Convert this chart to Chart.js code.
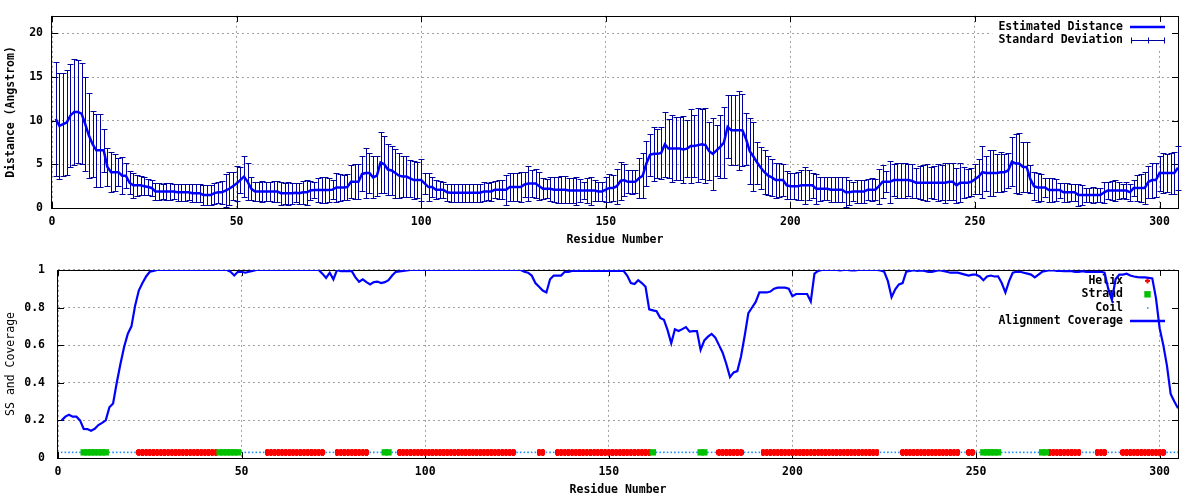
<!DOCTYPE html>
<html>
<head>
<meta charset="utf-8">
<script src="https://cdn.jsdelivr.net/npm/chart.js@4.4.0/dist/chart.umd.min.js"></script>
<style>
  html, body { margin: 0; padding: 0; background: #fff; }
  .pane { width: 1200px; height: 250px; }
  canvas { display: block; }
</style>
</head>
<body>
<div class="pane"><canvas id="distPlot" width="1200" height="250"></canvas></div>
<div class="pane"><canvas id="ssPlot" width="1200" height="250"></canvas></div>
<script>
// Estimated distance per residue (Angstrom), residues 1..305
var distMean = [
  10.2, 9.4, 9.6, 9.8, 10.6, 11.0, 11.0, 10.8, 9.6, 8.3,
  7.3, 6.6, 6.6, 6.6, 4.7, 4.1, 4.1, 4.1, 3.7, 3.7,
  2.9, 2.6, 2.6, 2.6, 2.5, 2.4, 2.3, 1.9, 1.9, 1.9,
  1.9, 1.9, 1.9, 1.8, 1.8, 1.8, 1.8, 1.7, 1.7, 1.7,
  1.5, 1.5, 1.5, 1.7, 1.8, 1.8, 2.0, 2.2, 2.5, 2.8,
  3.2, 3.6, 3.0, 2.2, 1.9, 1.9, 1.9, 1.9, 1.9, 1.9,
  1.9, 1.7, 1.7, 1.7, 1.7, 1.75, 1.7, 1.8, 1.8, 2.0,
  2.05, 2.05, 2.05, 2.05, 2.05, 2.1, 2.35, 2.35, 2.35, 2.4,
  3.0, 3.0, 3.0, 3.9, 4.0, 4.0, 3.5, 3.7, 5.2, 5.0,
  4.4, 4.3, 4.0, 3.7, 3.6, 3.6, 3.4, 3.2, 3.2, 3.2,
  2.8, 2.4, 2.4, 2.1, 2.1, 2.1, 1.8, 1.75, 1.75, 1.75,
  1.75, 1.75, 1.75, 1.75, 1.75, 1.75, 1.9, 1.9, 1.9, 2.1,
  2.1, 2.1, 2.1, 2.4, 2.4, 2.4, 2.4, 2.7, 2.8, 2.8,
  2.8, 2.5, 2.2, 2.2, 2.2, 2.1, 2.1, 2.1, 2.1, 2.0,
  2.0, 2.0, 2.0, 2.0, 2.0, 2.0, 2.0, 1.9, 1.9, 2.1,
  2.3, 2.3, 2.5, 3.1, 3.2, 3.0, 3.0, 3.0, 3.4, 3.7,
  5.1, 6.1, 6.2, 6.2, 6.3, 7.3, 6.8, 6.8, 6.8, 6.8,
  6.7, 6.8, 7.1, 7.1, 7.2, 7.3, 7.2, 6.5, 6.2, 6.6,
  7.0, 7.5, 9.3, 8.9, 8.9, 8.9, 8.9, 7.9, 6.5, 5.9,
  5.2, 4.6, 4.1, 3.7, 3.5, 3.2, 3.2, 3.2, 2.6, 2.5,
  2.5, 2.5, 2.6, 2.6, 2.6, 2.6, 2.2, 2.2, 2.2, 2.2,
  2.1, 2.1, 2.1, 2.1, 1.8, 1.8, 1.9, 1.9, 1.9, 1.9,
  2.1, 2.1, 2.1, 2.5, 3.0, 3.0, 3.0, 3.2, 3.2, 3.2,
  3.2, 3.2, 3.1, 2.9, 2.9, 2.9, 2.9, 2.9, 2.9, 2.9,
  2.9, 2.9, 3.0, 3.0, 2.6, 2.9, 2.9, 2.9, 3.0, 3.3,
  3.6, 4.1, 4.0, 4.0, 4.0, 4.0, 4.1, 4.1, 4.3, 5.3,
  5.1, 5.1, 4.7, 4.7, 3.3, 2.5, 2.35, 2.35, 2.35, 2.05,
  2.05, 2.05, 2.05, 1.8, 1.8, 1.8, 1.8, 1.5, 1.5, 1.5,
  1.5, 1.5, 1.5, 1.5, 1.8, 2.0, 2.0, 2.0, 2.0, 2.0,
  2.0, 1.8, 2.3, 2.3, 2.3, 2.3, 3.0, 3.2, 3.2, 4.0,
  4.0, 4.0, 4.0, 4.0, 4.6
];

// Standard deviation per residue
var distSd = [
  6.5, 6.1, 5.9, 6.0, 5.9, 6.1, 5.9, 5.8, 5.4, 4.9,
  3.8, 4.2, 4.2, 2.5, 2.2, 2.3, 2.1, 1.6, 2.1, 1.4,
  1.3, 1.4, 1.2, 1.1, 1.0, 0.9, 0.9, 1.0, 1.0, 0.9,
  1.0, 1.0, 0.9, 1.0, 1.0, 1.0, 0.9, 1.0, 1.0, 1.0,
  1.1, 1.1, 1.1, 1.2, 1.2, 1.3, 1.9, 1.9, 1.6, 2.0,
  1.5, 2.3, 2.1, 1.3, 1.1, 1.1, 1.2, 1.1, 1.1, 1.2,
  1.2, 1.3, 1.2, 1.3, 1.2, 1.1, 1.2, 1.3, 1.4, 1.1,
  0.95, 1.35, 1.45, 1.45, 1.35, 1.1, 1.65, 1.55, 1.45, 1.5,
  1.9, 2.0, 2.0, 2.0, 2.9, 2.3, 2.4, 2.3, 3.5, 3.3,
  2.9, 2.8, 2.8, 2.6, 2.3, 2.3, 2.1, 2.2, 2.1, 2.4,
  1.2, 1.6, 1.1, 1.1, 1.0, 0.9, 1.0, 1.05, 1.05, 1.05,
  1.05, 1.05, 1.05, 1.05, 1.05, 1.05, 1.1, 1.0, 1.1, 1.0,
  1.1, 1.1, 1.7, 1.6, 1.6, 1.6, 1.7, 1.4, 2.0, 1.5,
  1.7, 1.6, 1.2, 1.1, 1.4, 1.4, 1.5, 1.55, 1.55, 1.4,
  1.4, 1.6, 1.3, 1.0, 1.4, 1.6, 1.2, 1.1, 1.1, 1.4,
  1.6, 1.5, 2.0, 2.2, 1.8, 1.3, 1.4, 1.3, 2.3, 2.6,
  2.6, 2.4, 3.1, 2.8, 3.0, 3.7, 3.4, 3.8, 3.6, 3.6,
  3.8, 3.3, 4.2, 3.5, 4.2, 4.0, 4.3, 3.3, 4.1, 2.9,
  3.6, 4.1, 3.6, 4.0, 4.0, 4.5, 4.1, 3.0, 3.8, 4.0,
  2.4, 2.4, 2.5, 2.2, 2.1, 2.0, 1.9, 1.8, 1.6, 1.5,
  1.5, 1.6, 1.7, 2.1, 1.7, 1.4, 1.7, 1.4, 1.3, 1.3,
  1.4, 1.4, 1.4, 1.4, 1.7, 1.4, 1.1, 1.3, 1.3, 1.3,
  1.2, 1.3, 1.2, 2.0, 1.9, 1.2, 2.4, 1.8, 2.0, 2.0,
  2.0, 1.8, 1.9, 1.7, 1.9, 2.0, 2.1, 1.8, 1.9, 2.1,
  2.0, 2.3, 2.1, 2.1, 2.0, 2.2, 1.8, 1.6, 1.6, 1.7,
  2.0, 3.0, 2.0, 2.6, 2.6, 2.2, 2.3, 2.1, 2.0, 2.8,
  3.4, 3.5, 2.9, 2.9, 1.6, 1.6, 1.65, 1.6, 1.05, 1.35,
  1.35, 1.3, 0.85, 1.1, 1.1, 1.0, 1.0, 1.3, 1.1, 0.8,
  0.8, 0.9, 0.8, 0.8, 1.2, 1.0, 1.05, 1.2, 1.0, 0.8,
  1.0, 1.0, 0.9, 1.5, 1.6, 1.8, 1.8, 2.0, 1.9, 2.0,
  2.3, 2.2, 2.35, 2.4, 2.5
];

// Alignment coverage per residue
var coverage = [
  0.20, 0.22, 0.23, 0.22, 0.22, 0.20, 0.155, 0.154, 0.145, 0.155,
  0.175, 0.187, 0.20, 0.27, 0.29, 0.40, 0.50, 0.59, 0.66, 0.70,
  0.81, 0.89, 0.93, 0.965, 0.99, 0.995, 1, 1, 1, 1,
  1, 1, 1, 1, 1, 1, 1, 1, 1, 1,
  1, 1, 1, 1, 1, 1, 0.99, 0.97, 0.99, 0.99,
  0.985, 0.99, 0.995, 1, 1, 1, 1, 1, 1, 1,
  1, 1, 1, 1, 1, 1, 1, 1, 1, 1,
  1, 0.98, 0.957, 0.985, 0.95, 1, 0.993, 0.993, 0.993, 0.993,
  0.96, 0.937, 0.95, 0.935, 0.923, 0.935, 0.938, 0.93, 0.935, 0.945,
  0.97, 0.99, 0.992, 0.995, 0.997, 1, 1, 1, 1, 1,
  1, 1, 1, 1, 1, 1, 1, 1, 1, 1,
  1, 1, 1, 1, 1, 1, 1, 1, 1, 1,
  1, 1, 1, 1, 1, 1, 0.99, 0.985, 0.97, 0.93,
  0.91, 0.89, 0.88, 0.95, 0.97, 0.97, 0.97, 0.99, 0.99, 0.995,
  0.995, 0.995, 0.995, 0.995, 0.995, 0.995, 0.995, 0.995, 0.995, 0.995,
  0.995, 0.995, 0.995, 0.995, 0.97, 0.93, 0.925, 0.945, 0.93, 0.91,
  0.79, 0.785, 0.78, 0.745, 0.735, 0.68, 0.61, 0.684, 0.675, 0.685,
  0.696, 0.672, 0.674, 0.675, 0.575, 0.625, 0.645, 0.66, 0.64, 0.60,
  0.56, 0.50, 0.43, 0.455, 0.462, 0.54, 0.65, 0.77, 0.80, 0.83,
  0.88, 0.88, 0.88, 0.885, 0.90, 0.906, 0.906, 0.906, 0.90, 0.86,
  0.872, 0.872, 0.872, 0.872, 0.832, 0.98, 0.995, 1, 1, 1,
  1, 1, 0.998, 1, 1, 0.997, 0.997, 1, 1, 1,
  1, 1, 1, 0.997, 0.99, 0.94, 0.855, 0.897, 0.923, 0.93,
  0.99, 0.995, 0.998, 0.995, 0.997, 0.995, 0.99, 0.99, 0.995, 0.998,
  0.995, 0.99, 0.985, 0.985, 0.985, 0.98, 0.975, 0.97, 0.975, 0.975,
  0.965, 0.945, 0.965, 0.97, 0.965, 0.966, 0.93, 0.88, 0.94, 0.985,
  0.99, 0.99, 0.985, 0.98, 0.975, 0.96, 0.975, 0.99, 0.995, 0.998,
  0.998, 0.995, 0.995, 0.993, 0.995, 0.993, 0.99, 0.99, 0.993, 0.99,
  0.99, 0.99, 0.99, 0.99, 0.985, 0.90, 0.84, 0.95, 0.975, 0.975,
  0.98, 0.97, 0.965, 0.962, 0.96, 0.96, 0.958, 0.955, 0.85, 0.69,
  0.60, 0.49, 0.34, 0.30, 0.265
];

// Secondary structure per residue (H helix, E strand, C coil), 10 per block
var ssBlocks = [
  "CCCCCCEEEE", "EEECCCCCCC", "CHHHHHHHHH", "HHHHHHHHHH", "HHHEEEEEEC",
  "CCCCCCHHHH", "HHHHHHHHHH", "HHCCCHHHHH", "HHHHCCCCEE", "CCHHHHHHHH",
  "HHHHHHHHHH", "HHHHHHHHHH", "HHHHCCCCCC", "HHCCCHHHHH", "HHHHHHHHHH",
  "HHHHHHHHHH", "HECCCCCCCC", "CCCCEECCCH", "HHHHHHCCCC", "CHHHHHHHHH",
  "HHHHHHHHHH", "HHHHHHHHHH", "HHHCCCCCCH", "HHHHHHHHHH", "HHHHHCCHHC",
  "CEEEEECCCC", "CCCCCCCEEH", "HHHHHHHHCC", "CCHHHCCCCH", "HHHHHHHHHH",
  "HCCCC"
];
var ssLevel = 0.03;

var distTicksY = [0, 5, 10, 15, 20];
var covTicksY = [0, 0.2, 0.4, 0.6, 0.8, 1];

var residues = distMean.map(function(v, i) { return i + 1; });
var ss = ssBlocks.join('').split('');

function ssPoints(code) {
    var pts = [];
    ss.forEach(function(c, i) {
        if (c == code)
            pts.push({x: residues[i], y: ssLevel});
    });
    return pts;
}

var MONO = "'DejaVu Sans Mono', monospace";
var tickFont = {family: MONO, size: 11.5, weight: 'bold'};
var gridGray = '#a0a0a0';
var barColor = '#0000a0';

// helix marker: thick plus, overlapping into a serrated band
function helixMarker() {
    var c = document.createElement('canvas');
    c.width = 5; c.height = 7;
    var g = c.getContext('2d');
    g.fillStyle = '#ff0000';
    g.fillRect(0, 1, 5, 5);
    g.fillRect(1, 0, 3, 7);
    return c;
}

function plainNumber(v) {
    return String(Math.round(v * 10) / 10);
}

// gnuplot style key (text left, sample right) plus the frame and inward tics
function framePlugin(keyItems) {
    return {
        id: 'gnuFrame',
        beforeDatasetsDraw: function(chart) {
            var ctx = chart.ctx, a = chart.chartArea;
            var xs = chart.scales.x, ys = chart.scales.y;
            var textRight = a.right - 55, sx = a.right - 30.5;
            var rowH = 13.4, row0 = a.top + 11;

            ctx.save();
            ctx.font = 'bold 11.5px ' + MONO;
            var maxW = 0;
            keyItems.forEach(function(k) { maxW = Math.max(maxW, ctx.measureText(k.label).width); });
            ctx.fillStyle = '#fff';
            ctx.fillRect(textRight - maxW - 6, a.top, a.right - (textRight - maxW - 6), 11 + (keyItems.length - 1) * rowH + 8);

            // frame
            ctx.strokeStyle = '#000';
            ctx.lineWidth = 1;
            ctx.strokeRect(Math.round(a.left) - 0.5, Math.round(a.top) + 0.5, Math.round(a.right - a.left) + 1, Math.round(a.bottom - a.top));

            // tics on all four sides, pointing in
            ctx.beginPath();
            ys.ticks.forEach(function(t) {
                var py = Math.round(ys.getPixelForValue(t.value)) + 0.5;
                ctx.moveTo(a.left, py); ctx.lineTo(a.left + 6, py);
                ctx.moveTo(a.right, py); ctx.lineTo(a.right - 6, py);
            });
            xs.ticks.forEach(function(t) {
                var px = Math.round(xs.getPixelForValue(t.value)) + 0.5;
                ctx.moveTo(px, a.bottom); ctx.lineTo(px, a.bottom - 6);
                ctx.moveTo(px, a.top); ctx.lineTo(px, a.top + 6);
            });
            ctx.stroke();

            // key
            ctx.textAlign = 'right';
            ctx.textBaseline = 'middle';
            keyItems.forEach(function(k, i) {
                var y = row0 + i * rowH;
                ctx.fillStyle = '#000';
                ctx.fillText(k.label, textRight, y);
                if (k.kind == 'line') {
                    ctx.strokeStyle = k.color; ctx.lineWidth = 2.5;
                    ctx.beginPath(); ctx.moveTo(a.right - 48, y); ctx.lineTo(a.right - 13, y); ctx.stroke();
                } else if (k.kind == 'errorbar') {
                    var yy = Math.round(y) + 0.5;
                    ctx.strokeStyle = k.color; ctx.lineWidth = 1;
                    ctx.beginPath();
                    ctx.moveTo(a.right - 47, yy); ctx.lineTo(a.right - 14, yy);
                    [a.right - 47, sx, a.right - 14].forEach(function(px) {
                        px = Math.round(px) + 0.5;
                        ctx.moveTo(px, yy - 3); ctx.lineTo(px, yy + 3);
                    });
                    ctx.stroke();
                } else if (k.kind == 'plus') {
                    ctx.fillStyle = k.color;
                    ctx.fillRect(sx - 2.5, y - 1, 5, 2);
                    ctx.fillRect(sx - 1, y - 2.5, 2, 5);
                } else if (k.kind == 'square') {
                    ctx.fillStyle = k.color;
                    ctx.fillRect(sx - 3.2, y - 3.2, 6.4, 6.4);
                } else if (k.kind == 'dot') {
                    ctx.fillStyle = k.color;
                    ctx.fillRect(sx - 0.5, y - 0.5, 1.5, 1.5);
                }
            });
            ctx.restore();
        }
    };
}

var errorBarPlugin = {
    id: 'errorBars',
    beforeDatasetsDraw: function(chart) {
        var ctx = chart.ctx, xs = chart.scales.x, ys = chart.scales.y;
        ctx.save();
        ctx.strokeStyle = barColor;
        ctx.lineWidth = 1;
        ctx.beginPath();
        distMean.forEach(function(m, i) {
            var px = Math.round(xs.getPixelForValue(residues[i])) + 0.5;
            var top = Math.round(ys.getPixelForValue(m + distSd[i])) + 0.5;
            var bot = Math.round(ys.getPixelForValue(m - distSd[i])) + 0.5;
            ctx.moveTo(px, top); ctx.lineTo(px, bot);
            ctx.moveTo(px - 3, top); ctx.lineTo(px + 3, top);
            ctx.moveTo(px - 3, bot); ctx.lineTo(px + 3, bot);
        });
        ctx.stroke();
        ctx.restore();
    }
};

function xScale(bottomPad) {
    return {
        type: 'linear', min: 0, max: 305,
        ticks: {stepSize: 50, includeBounds: false, color: '#000', font: tickFont, padding: 7, maxRotation: 0, autoSkip: false},
        grid: {color: gridGray, lineWidth: 1, drawTicks: false},
        border: {display: false, dash: [2, 3]},
        title: {display: true, text: 'Residue Number', color: '#000', font: tickFont, padding: {top: 0, bottom: bottomPad}},
        afterFit: function(s) { s.height = 42; }
    };
}

// Distance plot
var distChart = new Chart(document.getElementById('distPlot'), {
    type: 'line',
    data: {
        datasets: [{
            label: 'Estimated Distance',
            data: distMean.map(function(v, i) { return {x: residues[i], y: v}; }),
            borderColor: '#0000ff',
            borderWidth: 2.5,
            pointRadius: 0,
            tension: 0
        }]
    },
    options: {
        responsive: false,
        animation: false,
        events: [],
        layout: {padding: {top: 14, right: 22, left: 0, bottom: 0}},
        plugins: {legend: {display: false}, tooltip: {enabled: false}},
        scales: {
            x: xScale(3),
            y: {
                type: 'linear', min: 0, max: 22,
                afterBuildTicks: function(s) { s.ticks = distTicksY.map(function(v) { return {value: v}; }); },
                ticks: {color: '#000', font: tickFont, padding: 9, callback: plainNumber},
                grid: {color: gridGray, lineWidth: 1, drawTicks: false},
                border: {display: false, dash: [2, 3]},
                title: {display: true, text: 'Distance (Angstrom)', color: '#000', font: tickFont, padding: {top: 4, bottom: 0}},
                afterFit: function(s) { s.width = 52; }
            }
        }
    },
    plugins: [
        framePlugin([
            {label: 'Estimated Distance', kind: 'line', color: '#0000ff'},
            {label: 'Standard Deviation', kind: 'errorbar', color: barColor}
        ]),
        errorBarPlugin
    ]
});

// Secondary structure and coverage plot
var ssChart = new Chart(document.getElementById('ssPlot'), {
    type: 'line',
    data: {
        datasets: [
            {
                label: 'Alignment Coverage',
                data: coverage.map(function(v, i) { return {x: residues[i], y: v}; }),
                borderColor: '#0000ff',
                borderWidth: 2.2,
                pointRadius: 0,
                tension: 0,
                order: 0
            },
            {
                label: 'Strand',
                data: ssPoints('E'),
                showLine: false,
                pointStyle: 'rect',
                pointRadius: 4.5,
                borderWidth: 0,
                backgroundColor: '#00c000',
                order: 1
            },
            {
                label: 'Helix',
                data: ssPoints('H'),
                showLine: false,
                pointStyle: helixMarker(),
                pointRadius: 3,
                order: 2
            },
            {
                label: 'Coil',
                data: ssPoints('C'),
                showLine: false,
                pointStyle: 'rect',
                pointRadius: 1.1,
                borderWidth: 0,
                backgroundColor: '#1a8cff',
                order: 3
            }
        ]
    },
    options: {
        responsive: false,
        animation: false,
        events: [],
        layout: {padding: {top: 13, right: 22, left: 0, bottom: 0}},
        plugins: {legend: {display: false}, tooltip: {enabled: false}},
        scales: {
            x: xScale(3),
            y: {
                type: 'linear', min: 0, max: 1,
                afterBuildTicks: function(s) { s.ticks = covTicksY.map(function(v) { return {value: v}; }); },
                ticks: {color: '#000', font: tickFont, padding: 13, callback: plainNumber},
                grid: {color: gridGray, lineWidth: 1, drawTicks: false},
                border: {display: false, dash: [2, 3]},
                title: {display: true, text: 'SS and Coverage', color: '#000',
                        font: {family: MONO, size: 11.5, weight: 'normal'}, padding: {top: 4, bottom: 0}},
                afterFit: function(s) { s.width = 58; }
            }
        }
    },
    plugins: [
        framePlugin([
            {label: 'Helix', kind: 'plus', color: '#ff0000'},
            {label: 'Strand', kind: 'square', color: '#00c000'},
            {label: 'Coil', kind: 'dot', color: '#1a8cff'},
            {label: 'Alignment Coverage', kind: 'line', color: '#0000ff'}
        ])
    ]
});
</script>
</body>
</html>
